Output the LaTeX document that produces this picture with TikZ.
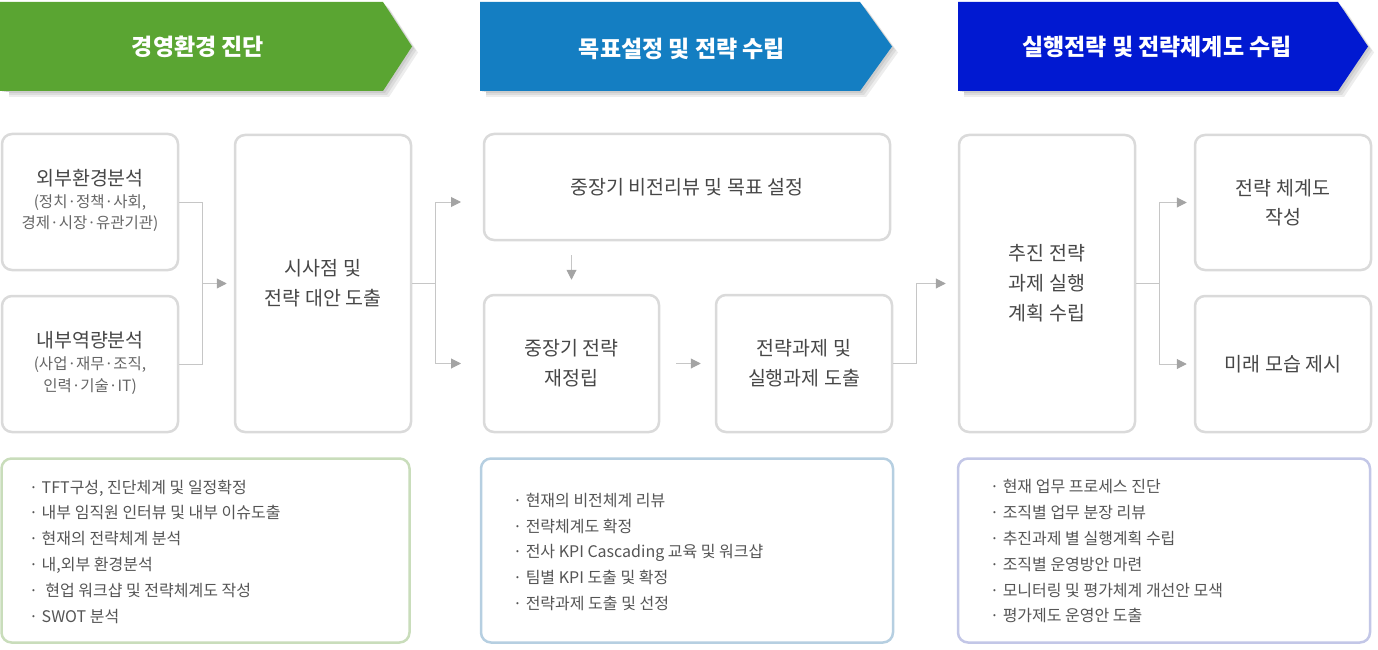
\documentclass[tikz,border=0pt]{standalone}
\usepackage{fontspec}
\setmainfont{Noto Sans CJK KR}
\usetikzlibrary{arrows.meta,calc}
\definecolor{hgreen}{HTML}{5AA532}
\definecolor{hblue}{HTML}{147EC2}
\definecolor{hnavy}{HTML}{0119D1}
\definecolor{bxline}{HTML}{DADADA}
\definecolor{txt}{HTML}{474747}
\definecolor{subtxt}{HTML}{666666}
\definecolor{listc}{HTML}{555555}
\definecolor{conn}{HTML}{C6C6C6}
\definecolor{tipc}{HTML}{A4A4A4}
\definecolor{lgreen}{HTML}{C9DDBB}
\definecolor{lblue}{HTML}{B6CFE1}
\definecolor{lpurple}{HTML}{C3C7E7}
\tikzset{
  box/.style={draw=bxline, line width=2.5pt, rounded corners=10pt, fill=white, inner sep=0pt},
  boxtxt/.style={text=txt, font=\fontsize{19.5}{30}\selectfont, align=center},
  maintxt/.style={text=txt, font=\fontsize{19.5}{22}\selectfont, inner sep=0pt},
  subt/.style={text=subtxt, font=\fontsize{15.5}{20}\selectfont, inner sep=0pt},
  listbox/.style={line width=2.5pt, rounded corners=10pt, fill=white, minimum width=410pt, minimum height=184pt},
  listtxt/.style={text=listc, font=\fontsize{16}{25.8}\selectfont, align=left, inner sep=0pt, anchor=west},
  hdtxt/.style={text=white, font=\fontsize{23}{26}\selectfont\bfseries, inner sep=0pt},
  conn/.style={draw=conn, line width=1pt},
  arr/.style={conn, -{Triangle[length=10pt,width=10pt,color=tipc]}},
}
\begin{document}
\begin{tikzpicture}[x=1pt,y=-1pt]
\useasboundingbox (0,0) rectangle (1378,650);
% header shadows
\foreach \d in {2,4,6}{
  \fill[black,opacity=0.07] (0+\d,2+\d) -- (383+\d,2+\d) -- (412+\d,46.5+\d) -- (383+\d,91+\d) -- (0+\d,91+\d) -- cycle;
  \fill[black,opacity=0.07] (480+\d,2+\d) -- (860+\d,2+\d) -- (892+\d,46.5+\d) -- (860+\d,91+\d) -- (480+\d,91+\d) -- cycle;
  \fill[black,opacity=0.07] (958+\d,2+\d) -- (1338+\d,2+\d) -- (1368+\d,46.5+\d) -- (1338+\d,91+\d) -- (958+\d,91+\d) -- cycle;
}
\fill[white] (0,92) rectangle (9,100);
\fill[white] (474,92) rectangle (486,100);
\fill[white] (952,92) rectangle (964,100);
% headers
\fill[hgreen] (0,2) -- (383,2) -- (412,46.5) -- (383,91) -- (0,91) -- cycle;
\fill[hblue] (480,2) -- (860,2) -- (892,46.5) -- (860,91) -- (480,91) -- cycle;
\fill[hnavy] (958,2) -- (1338,2) -- (1368,46.5) -- (1338,91) -- (958,91) -- cycle;
\node[hdtxt] (h1) at (198,47) {경영환경 진단};
\node[hdtxt] (h2) at (682,49) {목표설정 및 전략 수립};
\node[hdtxt] (h3) at (1157,47) {실행전략 및 전략체계도 수립};

% column 1
\node[box, minimum width=176pt, minimum height=136pt] (ext) at (90,202) {};
\node[maintxt] (extT) at (90,178) {외부환경분석};
\node[subt] (extS1) at (90,203) {(정치·정책·사회,};
\node[subt] (extS2) at (90,224) {경제·시장·유관기관)};
\node[box, minimum width=176pt, minimum height=136pt] (int) at (90,364) {};
\node[maintxt] (intT) at (90,340) {내부역량분석};
\node[subt] (intS1) at (90,365) {(사업·재무·조직,};
\node[subt] (intS2) at (90,387) {인력·기술·IT)};
\node[box, boxtxt, minimum width=176pt, minimum height=297pt] (sisa) at (323,283.5) {시사점 및\\전략 대안 도출};

% column 2
\node[box, boxtxt, minimum width=406pt, minimum height=106pt] (vision) at (687,187) {중장기 비전리뷰 및 목표 설정};
\node[box, boxtxt, minimum width=175pt, minimum height=137pt] (rebuild) at (571.5,363.5) {중장기 전략\\재정립};
\node[box, boxtxt, minimum width=176pt, minimum height=137pt] (task) at (804,363.5) {전략과제 및\\실행과제 도출};

% column 3
\node[box, boxtxt, minimum width=176pt, minimum height=297pt] (exec) at (1047,283.5) {추진 전략\\과제 실행\\계획 수립};
\node[box, boxtxt, minimum width=176pt, minimum height=135pt, font=\fontsize{19.5}{29}\selectfont] (chart) at (1283,202.5) {전략 체계도\\작성};
\node[box, boxtxt, minimum width=176pt, minimum height=136pt] (future) at (1283,364) {미래 모습 제시};

% connectors
\coordinate (j1t) at (202,202);
\coordinate (j1b) at (202,364);
\draw[conn] (ext.east) -- (j1t) -- (j1b) -- (int.east);
\draw[arr, shorten >=7pt] (j1t |- sisa.west) -- (sisa.west);
\coordinate (j2) at (435,283.5);
\coordinate (a1) at (461,202);
\coordinate (a2) at (461,363.5);
\draw[conn] (sisa.east) -- (j2);
\draw[arr] (j2) |- (a1);
\draw[arr] (j2) |- (a2);
\draw[arr, shorten <=14pt, shorten >=14pt] (vision.south -| rebuild.north) -- (rebuild.north);
\draw[arr, shorten <=16pt, shorten >=14pt] (rebuild.east) -- (task.west);
\draw[arr, shorten >=12pt] (task.east) -- ++(23,0) |- (exec.west);
\draw[arr, shorten >=7pt] (exec.east) -- ++(23,0) |- (chart.west);
\draw[arr, shorten >=7pt] (exec.east) -- ++(23,0) |- (future.west);

% lists
\node[listbox, draw=lgreen, minimum width=408pt] (L1) at (205.5,550.5) {};
\node[listtxt] (L1t) at (29,551.5) {·\ TFT구성, 진단체계 및 일정확정\\·\ 내부 임직원 인터뷰 및 내부 이슈도출\\·\ 현재의 전략체계 분석\\·\ 내,외부 환경분석\\·\ \ 현업 워크샵 및 전략체계도 작성\\·\ SWOT 분석};
\node[listbox, draw=lblue, minimum width=412pt] (L2) at (687,550.5) {};
\node[listtxt] (L2t) at (513,552) {·\ 현재의 비전체계 리뷰\\·\ 전략체계도 확정\\·\ 전사 KPI Cascading 교육 및 워크샵\\·\ 팀별 KPI 도출 및 확정\\·\ 전략과제 도출 및 선정};
\node[listbox, draw=lpurple, minimum width=412pt] (L3) at (1164,550.5) {};
\node[listtxt] (L3t) at (990,551.5) {·\ 현재 업무 프로세스 진단\\·\ 조직별 업무 분장 리뷰\\·\ 추진과제 별 실행계획 수립\\·\ 조직별 운영방안 마련\\·\ 모니터링 및 평가체계 개선안 모색\\·\ 평가제도 운영안 도출};
\end{tikzpicture}
\end{document}
